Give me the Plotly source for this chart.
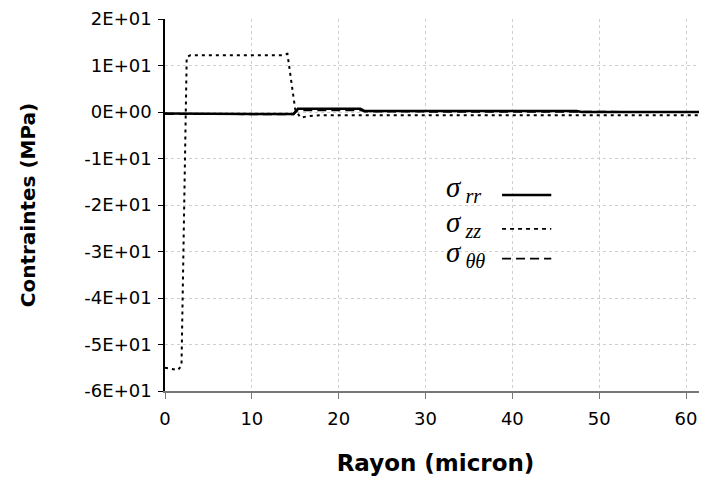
import plotly.graph_objects as go

# ---- data ----
r_zz = [0, 0.5, 1.0, 1.5, 1.9, 2.2, 2.5, 2.9, 5, 8, 11, 13.5, 14.1, 14.5, 15.0, 15.6, 16.5, 18, 25, 35, 45, 55, 62]
s_zz = [-55.0, -55.2, -55.3, -55.5, -54.5, -20.0, 11.8, 12.2, 12.2, 12.2, 12.2, 12.2, 12.5, 7.0, 0.5, -1.2, -0.9, -0.7, -0.7, -0.7, -0.7, -0.7, -0.7]

r_rr = [0, 4.4, 5, 10, 14.8, 15.3, 16, 20, 22.5, 23, 30, 40, 47.4, 48, 55, 62]
s_rr = [-0.3, -0.3, -0.45, -0.45, -0.45, 0.7, 0.7, 0.7, 0.7, 0.2, 0.2, 0.2, 0.2, 0.0, 0.0, 0.0]

r_tt = [0, 4.4, 5, 10, 14.8, 15.3, 16, 20, 22.5, 23, 30, 40, 47.4, 48, 55, 62]
s_tt = [-0.4, -0.4, -0.5, -0.5, -0.5, 0.4, 0.4, 0.4, 0.4, 0.1, 0.1, 0.1, 0.1, 0.0, 0.0, 0.0]

y_ticks = [20, 10, 0, -10, -20, -30, -40, -50, -60]
y_labels = ["2E+01", "1E+01", "0E+00", "-1E+01", "-2E+01", "-3E+01", "-4E+01", "-5E+01", "-6E+01"]
x_ticks = [0, 10, 20, 30, 40, 50, 60]

legend_labels = ["<i>σ</i><sub><i> rr</i></sub>", "<i>σ</i><sub><i> zz</i></sub>", "<i>σ</i><sub><i> θθ</i></sub>"]
legend_dash = ["solid", "4px,4px", "9px,5px"]

fig = go.Figure()
fig.add_trace(go.Scatter(x=r_zz, y=s_zz, mode="lines", line=dict(color="black", width=2, dash="3px,4px"), showlegend=False))
fig.add_trace(go.Scatter(x=r_tt, y=s_tt, mode="lines", line=dict(color="black", width=2, dash="9px,5px"), showlegend=False))
fig.add_trace(go.Scatter(x=r_rr, y=s_rr, mode="lines", line=dict(color="black", width=2.5), showlegend=False))

# custom legend (text on left, line sample on right) in paper coordinates
leg_text_y = [0.543, 0.450, 0.368]
leg_line_y = [0.527, 0.436, 0.356]
for lab, dash, ty, ly in zip(legend_labels, legend_dash, leg_text_y, leg_line_y):
    fig.add_annotation(xref="paper", yref="paper", x=0.515, y=ty, text=lab, showarrow=False,
                       xanchor="left", yanchor="middle",
                       font=dict(family="Liberation Serif", size=29, color="black"))
    fig.add_shape(type="line", xref="paper", yref="paper", x0=0.623, x1=0.714, y0=ly, y1=ly,
                  line=dict(color="black", width=2.5 if dash == "solid" else 1.8, dash=dash))

fig.update_layout(
    width=699, height=476,
    margin=dict(l=157, r=1, t=11, b=93),
    plot_bgcolor="white", paper_bgcolor="white",
    font=dict(family="DejaVu Sans", color="black"),
)
fig.update_xaxes(range=[0, 62.3], tickvals=x_ticks, showgrid=True, gridcolor="#cfcfcf", griddash="3px,3px",
                 gridwidth=1, showline=True, linecolor="#777777", linewidth=1.5, ticks="outside",
                 tickcolor="#777777", ticklen=6, tickfont=dict(size=18, family="DejaVu Sans"),
                 ticklabelstandoff=5, automargin=False, ticklabeloverflow="allow",
                 title=dict(text="<b>Rayon (micron)</b>", font=dict(size=23, family="DejaVu Sans"), standoff=27),
                 zeroline=False)
fig.update_yaxes(range=[-60, 20], tickvals=y_ticks, ticktext=y_labels, showgrid=True, gridcolor="#cfcfcf",
                 griddash="3px,3px", gridwidth=1, showline=True, linecolor="black", linewidth=1.5,
                 ticks="outside", tickcolor="black", ticklen=5, tickfont=dict(size=18, family="DejaVu Sans"),
                 ticklabelstandoff=3, automargin=False, ticklabeloverflow="allow",
                 title=dict(text="<b>Contraintes (MPa)</b>", font=dict(size=20, family="DejaVu Sans"), standoff=43),
                 zeroline=False)

fig.write_html("out.html")
